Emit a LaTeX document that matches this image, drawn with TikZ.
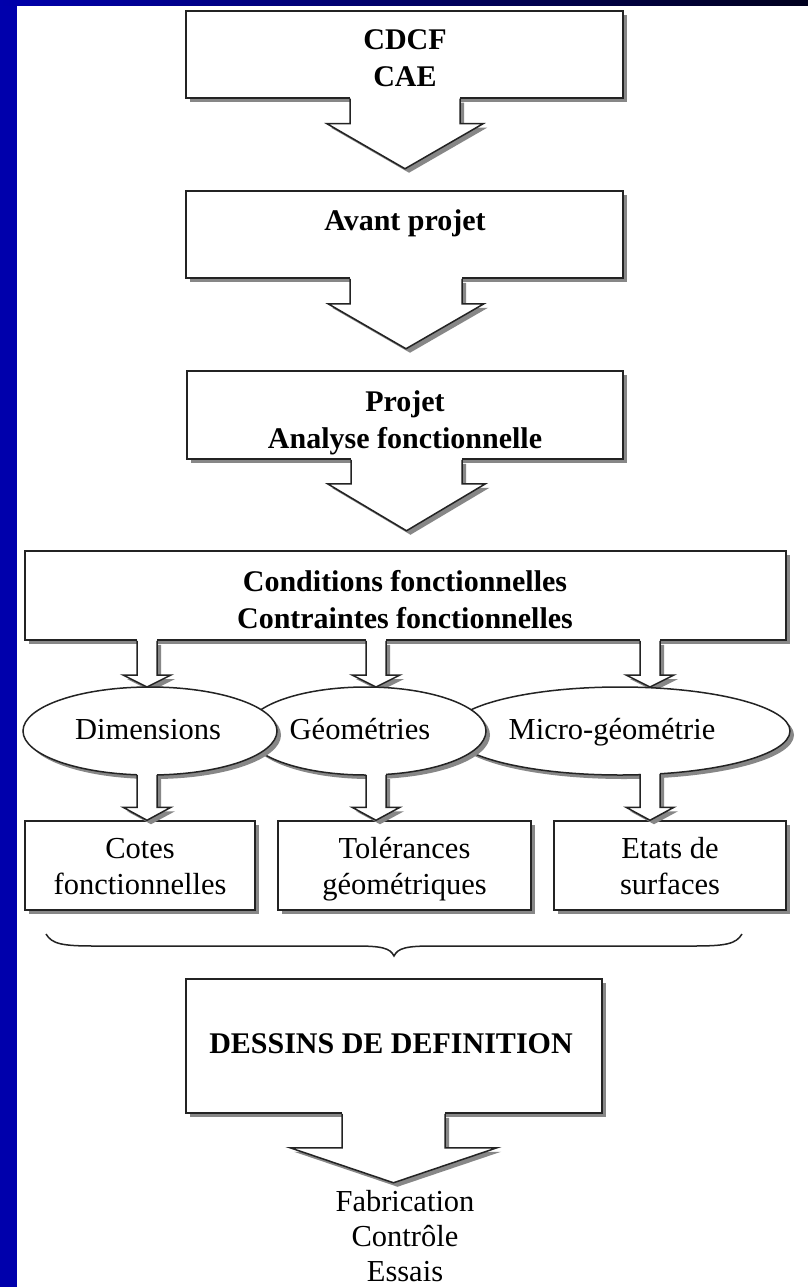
\documentclass[tikz,border=0pt]{standalone}
\usepackage{fontspec}
\setmainfont{Liberation Serif}
\usetikzlibrary{shapes.geometric,shadows,calc}
\definecolor{bluebar}{RGB}{0,0,172}
\definecolor{navyend}{RGB}{0,0,30}
\definecolor{linec}{RGB}{35,35,35}
\definecolor{shadowc}{RGB}{135,135,135}
\newcommand\firststrut{\rule{0pt}{0.95em}}
\newcommand\laststrut{\rule[-0.25em]{0pt}{0.25em}}
\newcommand\blkarrow[5]{%
  \fill[shadowc] let \p1=#1, \p2=#2 in
    (\x2-#3+4pt,\y1-4pt) -- (\x2-#3+4pt,\y2+#5-4pt) -- (\x2-#4+4pt,\y2+#5-4pt)
    -- (\x2+4pt,\y2-4pt) -- (\x2+#4+4pt,\y2+#5-4pt) -- (\x2+#3+4pt,\y2+#5-4pt)
    -- (\x2+#3+4pt,\y1-4pt) -- cycle;
  \fill[white] let \p1=#1, \p2=#2 in
    (\x2-#3+0.2pt,\y1+1.6pt) -- (\x2-#3,\y2+#5) -- (\x2-#4,\y2+#5) -- (\x2,\y2)
    -- (\x2+#4,\y2+#5) -- (\x2+#3,\y2+#5) -- (\x2+#3-0.2pt,\y1+1.6pt) -- cycle;
  \draw[arrline] let \p1=#1, \p2=#2 in
    (\x2-#3,\y1) -- (\x2-#3,\y2+#5) -- (\x2-#4,\y2+#5) -- (\x2,\y2)
    -- (\x2+#4,\y2+#5) -- (\x2+#3,\y2+#5) -- (\x2+#3,\y1);
}
\begin{document}
\begin{tikzpicture}[x=1pt,y=-1pt,
  arrline/.style={draw=linec, line width=1.5pt, line join=miter},
  boxst/.style={draw=linec, line width=1.5pt, fill=white, inner sep=0pt,
    drop shadow={shadow xshift=4pt, shadow yshift=-4pt, fill=shadowc, opacity=1}},
  ellst/.style={ellipse, draw=linec, line width=1.5pt, fill=white, inner sep=0pt,
    minimum height=88pt,
    drop shadow={shadow xshift=4pt, shadow yshift=-4pt, fill=shadowc, opacity=1}},
  bt/.style={font=\fontsize{30}{37}\selectfont\bfseries, align=center, inner sep=0pt},
  rt/.style={font=\fontsize{30.5}{36}\selectfont, align=center, inner sep=0pt},
]
\fill[white] (0,0) rectangle (808,1287);
\useasboundingbox (0,0) rectangle (808,1287);
\fill[bluebar] (0,0) rectangle (17,1287);
\shade[left color=bluebar, right color=navyend] (0,0) rectangle (808,6);

% box A
\node[boxst, minimum width=437pt, minimum height=87pt] (A) at (404.5,54.5) {};
\blkarrow{(A.south)}{($(A.south)+(0.5,70)$)}{55pt}{78pt}{45pt}
\node[bt] (At) at (405,58) {\firststrut CDCF\\CAE\laststrut};

% box B
\node[boxst, minimum width=437pt, minimum height=87pt] (B) at (404.5,234.5) {};
\blkarrow{(B.south)}{($(B.south)+(1.5,70)$)}{56pt}{78pt}{45pt}
\node[bt, anchor=base] (Bt) at (405,230) {Avant projet};

% box C
\node[boxst, minimum width=436pt, minimum height=88pt] (C) at (405,415) {};
\blkarrow{(C.south)}{($(C.south)+(1.5,71)$)}{55.5pt}{79pt}{47pt}
\node[bt] (Ct) at (405,419) {\firststrut Projet\\Analyse fonctionnelle\laststrut};

% box D
\node[boxst, minimum width=761pt, minimum height=89pt] (D) at (405.5,595.5) {};
\node[bt] (Dt) at (405,599) {\firststrut Conditions fonctionnelles\\Contraintes fonctionnelles\laststrut};

% small arrows from D to ellipses
\blkarrow{(D.south)}{(147,0 |- 0,687)}{10pt}{24pt}{12pt}
\blkarrow{(D.south)}{(376,0 |- 0,687)}{10pt}{24pt}{12pt}
\blkarrow{(D.south)}{(650,0 |- 0,687)}{10pt}{24pt}{12pt}

% ellipses
\node[ellst, minimum width=340pt] (e3) at (620,731) {};
\node[ellst, minimum width=240pt] (e2) at (366,731) {};
\node[ellst, minimum width=254pt] (e1) at (150,731) {};
\node[rt, anchor=base] (e1t) at (148,739) {Dimensions};
\node[rt, anchor=base] (e2t) at (360,739) {Géométries};
\node[rt, anchor=base] (e3t) at (612,739) {Micro-géométrie};

% lower boxes
\node[boxst, rt, minimum width=230pt, minimum height=89pt] (c1) at (140,865.5) {\firststrut Cotes\\fonctionnelles\laststrut};
\node[boxst, rt, minimum width=253pt, minimum height=89pt] (c2) at (404.5,865.5) {\firststrut Tolérances\\géométriques\laststrut};
\node[boxst, rt, minimum width=232pt, minimum height=89pt] (c3) at (670,865.5) {\firststrut Etats de\\surfaces\laststrut};

% small arrows from ellipses to boxes
\blkarrow{($(e1.south)+(0,-1)$)}{(147,0 |- c1.north)}{10pt}{24pt}{13pt}
\blkarrow{($(e2.south)+(0,-1)$)}{(376,0 |- c2.north)}{10pt}{24pt}{13pt}
\blkarrow{($(e3.south)+(0,-2)$)}{(650,0 |- c3.north)}{10pt}{24pt}{13pt}

% brace
\coordinate (bl) at (46,934);
\coordinate (bm) at (394,956);
\coordinate (br) at (742,934);
\draw[linec, line width=1.5pt] (bl) .. controls (52,944) and (62,946) .. (95,946)
  -- (355,946) .. controls (382,946) and (390,948) .. (bm)
  .. controls (398,948) and (406,946) .. (433,946) -- (693,946)
  .. controls (726,946) and (736,944) .. (br);

% box E
\node[boxst, minimum width=416pt, minimum height=134pt] (E) at (394,1046) {};
\blkarrow{(E.south)}{($(E.south)+(-0.5,69)$)}{51.5pt}{103.5pt}{35pt}
\node[bt, anchor=base] (Et) at (391,1053) {DESSINS DE DEFINITION};

\node[rt, font=\fontsize{30.5}{35}\selectfont] (out) at (405,1236) {\firststrut Fabrication\\Contrôle\\Essais\laststrut};
\end{tikzpicture}
\end{document}
